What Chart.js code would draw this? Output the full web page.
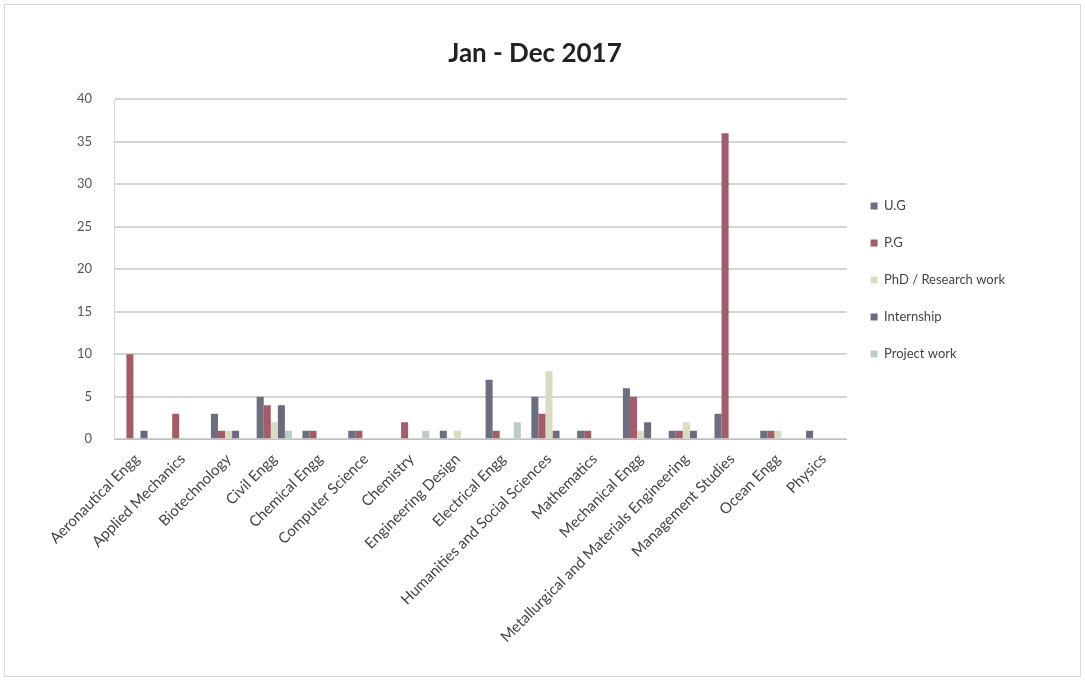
<!DOCTYPE html>
<html>
<head>
<meta charset="utf-8">
<script src="https://cdn.jsdelivr.net/npm/chart.js@4"></script>
<style>
  body { margin: 0; background: #fff; }
  #frame { position: absolute; left: 4px; top: 4px; width: 1075px; height: 671px; border: 1px solid #d9d9d9; }
  #wrap { position: absolute; left: 0; top: 0; width: 1085px; height: 681px; }
</style>
</head>
<body>
<div id="frame"></div>
<div id="wrap"><canvas id="deptChart"></canvas></div>
<script>
const departments = [
  'Aeronautical Engg', 'Applied Mechanics', 'Biotechnology', 'Civil Engg',
  'Chemical Engg', 'Computer Science', 'Chemistry', 'Engineering Design',
  'Electrical Engg', 'Humanities and Social Sciences', 'Mathematics', 'Mechanical Engg',
  'Metallurgical and Materials Engineering', 'Management Studies', 'Ocean Engg', 'Physics'
];
const ugCounts =       [0, 0, 3, 5, 1, 1, 0, 1, 7, 5, 1, 6, 1, 3, 1, 1];
const pgCounts =       [10, 3, 1, 4, 1, 1, 2, 0, 1, 3, 1, 5, 1, 36, 1, 0];
const phdCounts =      [0, 0, 1, 2, 0, 0, 0, 1, 0, 8, 0, 1, 2, 0, 1, 0];
const internCounts =   [1, 0, 1, 4, 0, 0, 0, 0, 0, 1, 0, 2, 1, 0, 0, 0];
const projectCounts =  [0, 0, 0, 1, 0, 0, 1, 0, 2, 0, 0, 0, 0, 0, 0, 0];
const yTicks = [0, 5, 10, 15, 20, 25, 30, 35, 40];

const ctx = document.getElementById('deptChart').getContext('2d');
new Chart(ctx, {
  type: 'bar',
  data: {
    labels: departments,
    datasets: [
      { label: 'U.G', data: ugCounts, backgroundColor: '#6b6f80' },
      { label: 'P.G', data: pgCounts, backgroundColor: '#a35d6a' },
      { label: 'PhD / Research work', data: phdCounts, backgroundColor: '#d9dcc0' },
      { label: 'Internship', data: internCounts, backgroundColor: '#6e6a7e' },
      { label: 'Project work', data: projectCounts, backgroundColor: '#bccaca' }
    ]
  },
  options: {
    responsive: true,
    maintainAspectRatio: false,
    animation: false,
    datasets: { bar: { categoryPercentage: 0.77, barPercentage: 1 } },
    layout: { padding: { left: 55, right: 70, bottom: 32, top: 0 } },
    plugins: {
      title: {
        display: true,
        text: 'Jan - Dec 2017',
        color: '#222',
        font: { family: 'Lato', size: 26, weight: 'bold' },
        padding: { top: 38, bottom: 30 }
      },
      legend: {
        position: 'right',
        align: 'start',
        title: { display: true, text: '', padding: { top: 161, bottom: 0 } },
        labels: {
          boxWidth: 7,
          boxHeight: 7,
          padding: 24,
          color: '#444',
          font: { family: 'Lato', size: 13 }
        }
      },
      tooltip: { enabled: false }
    },
    scales: {
      y: {
        min: 0,
        max: 40,
        afterBuildTicks: axis => { axis.ticks = yTicks.map(v => ({ value: v })); },
        border: { display: true, color: '#d9d9d9' },
        grid: { color: '#d4d4d4', lineWidth: 2, drawTicks: false },
        ticks: { color: '#555', padding: 22, font: { family: 'Lato', size: 13 } }
      },
      x: {
        border: { color: '#bfbfbf' },
        grid: { display: false },
        ticks: {
          minRotation: 45,
          maxRotation: 45,
          autoSkip: false,
          color: '#444',
          font: { family: 'Lato', size: 15 }
        }
      }
    }
  }
});
</script>
</body>
</html>
